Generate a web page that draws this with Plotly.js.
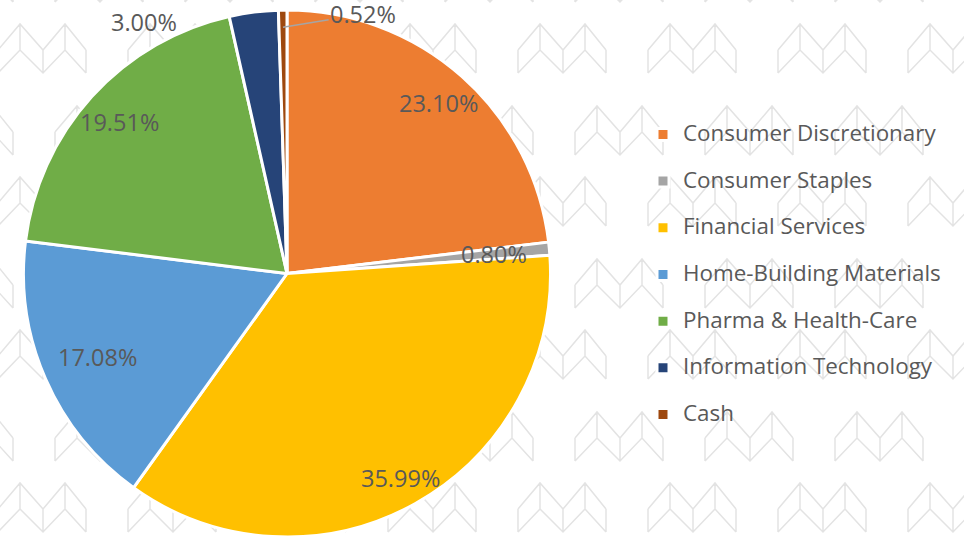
<!DOCTYPE html>
<html>
<head>
<meta charset="utf-8">
<script src="https://cdn.plot.ly/plotly-3.0.1.min.js"></script>
<style>html,body{margin:0;padding:0;background:#fff;}#chart{width:964px;height:537px;}</style>
</head>
<body>
<div id="chart"></div>
<script>
// ---- data ----
const categories = ['Consumer Discretionary', 'Consumer Staples', 'Financial Services', 'Home-Building Materials', 'Pharma & Health-Care', 'Information Technology', 'Cash'];
const values = [23.10, 0.80, 35.99, 17.08, 19.51, 3.00, 0.52];

// ---- style ----
const sliceColors = ['#ED7D31', '#A5A5A5', '#FFC000', '#5B9BD5', '#70AD47', '#264478', '#9E480E'];
const labelRadius = [0.864, 0.79, 0.887, 0.787, 0.856, 1.096, 1.026];
const labelAngleShift = [0, 0, 0, 0, 0, -22.3, 17.3];
const leaderFor = [false, false, false, false, false, false, true];

const W = 964, H = 537;
const PIE = {cx: 287, cy: 273.5, r: 263.5};
const TEXT = '#595959';
const FONT = 'Open Sans, Noto Sans, sans-serif';

// pie domain from geometry
const dom = {
  x: [(PIE.cx - PIE.r) / W, (PIE.cx + PIE.r) / W],
  y: [Math.max(0, (H - PIE.cy - PIE.r) / H), Math.min(1, (H - PIE.cy + PIE.r) / H)]
};

// label annotations computed from data (slice mid angles)
const total = values.reduce((a, b) => a + b, 0);
let cum = 0;
const annotations = [];
values.forEach((v, i) => {
  const mid = (cum + v / 2) / total * 360;
  cum += v;
  const th = (mid + labelAngleShift[i]) * Math.PI / 180;
  const px = PIE.cx + labelRadius[i] * PIE.r * Math.sin(th);
  const py = PIE.cy - labelRadius[i] * PIE.r * Math.cos(th);
  const txt = v.toFixed(2) + '%';
  if (leaderFor[i]) {
    const thm = mid * Math.PI / 180;
    const ax0 = PIE.cx + 0.935 * PIE.r * Math.sin(thm);
    const ay0 = PIE.cy - 0.935 * PIE.r * Math.cos(thm);
    annotations.push({
      xref: 'paper', yref: 'paper', x: ax0 / W, y: 1 - ay0 / H,
      ax: px - ax0, ay: py - ay0, showarrow: true, arrowhead: 0, arrowwidth: 1.5,
      arrowcolor: '#A5A5A5', standoff: 0, text: txt, height: 26, valign: 'middle',
      font: {family: FONT, size: 23.5, color: TEXT}
    });
  } else {
    annotations.push({
      xref: 'paper', yref: 'paper', x: px / W, y: 1 - py / H,
      xanchor: 'center', yanchor: 'middle', showarrow: false, text: txt,
      font: {family: FONT, size: 23.5, color: TEXT}
    });
  }
});

// background watermark (decorative tile pattern)
function logoPath(ox, oy) {
  const xs = [0, 22, 45, 67, 88];
  const top = [26, 0, 26, 0, 26];
  const bot = [49, 26, 49, 26, 49];
  const P = (x, y) => (x / W).toFixed(5) + ',' + (1 - y / H).toFixed(5);
  let d = 'M' + P(ox + xs[0], oy + top[0]);
  for (let k = 1; k < 5; k++) d += 'L' + P(ox + xs[k], oy + top[k]);
  d += 'M' + P(ox + xs[0], oy + bot[0]);
  for (let k = 1; k < 5; k++) d += 'L' + P(ox + xs[k], oy + bot[k]);
  for (let k = 0; k < 5; k++) d += 'M' + P(ox + xs[k], oy + top[k]) + 'L' + P(ox + xs[k], oy + bot[k]);
  return d;
}
let wm = '';
for (let row = -1; row < 4; row++) {
  const yA = 24 + 153 * row, yB = 106 + 153 * row;
  for (let c = -1; c < 9; c++) {
    const xA = -2 + 130 * c, xB = 55 + 130 * c;
    if (yA > -60 && yA < H) wm += logoPath(xA, yA);
    if (yB > -60 && yB < H) wm += logoPath(xB, yB);
  }
}
const shapes = [{type: 'path', xref: 'paper', yref: 'paper', path: wm, layer: 'below',
  line: {color: '#E3E3E3', width: 1.5}}];

const legendLabels = categories.map(c => '<span style="font-size:22.4px">' + c + '</span><br>\u00a0');

const trace = {
  type: 'pie',
  labels: legendLabels,
  values: values,
  sort: false,
  direction: 'clockwise',
  rotation: 0,
  textinfo: 'none',
  hoverinfo: 'skip',
  domain: dom,
  marker: {colors: sliceColors, line: {color: '#FFFFFF', width: 3}}
};

const layout = {
  width: W, height: H,
  margin: {l: 0, r: 0, t: 0, b: 0},
  paper_bgcolor: '#FFFFFF',
  showlegend: true,
  legend: {
    x: 643 / W, xanchor: 'left', y: 1 - 117 / H, yanchor: 'top',
    font: {family: FONT, size: 16.8, color: TEXT},
    valign: 'top', bgcolor: 'rgba(0,0,0,0)', traceorder: 'normal'
  },
  annotations: annotations,
  shapes: shapes
};

Plotly.newPlot('chart', [trace], layout, {staticPlot: true, displayModeBar: false});
</script>
</body>
</html>
